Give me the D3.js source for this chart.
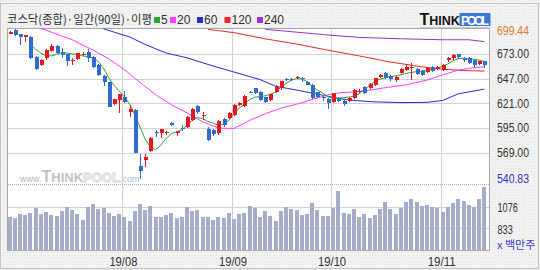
<!DOCTYPE html>
<html>
<head>
<meta charset="utf-8">
<script src="https://cdn.jsdelivr.net/npm/d3@7/dist/d3.min.js"></script>
<style>
  body { margin: 0; background: #fff; }
  svg { display: block; }
</style>
</head>
<body>
<div class="chart"></div>
<script>
// KOSDAQ composite, daily, last 92 sessions (oldest first)
const open = [694.4,698,693.7,691.3,691.3,670.2,661.4,668.4,676.2,681.8,
  674.8,672.7,665.5,667.7,672.4,675.5,670.2,661.4,650.2,643.2,
  620.3,624.5,627.7,611.5,614,555.4,561.3,570.8,590.8,589.4,
  590.2,600.6,590,595.4,596.4,603.5,617.9,607.5,594,592.6,
  589.4,604.2,605.9,608.7,619.3,618.2,633.4,636.8,633.3,627.3,
  624.5,633.3,636.8,646.8,646.5,647.5,647.4,643.9,640.4,632.6,
  628,626,622.1,627,623.5,623.5,627,632.6,638.6,636.8,
  640.4,649.1,653.3,650.2,645.6,653,656.5,658.5,657.2,655.4,
  654.4,659.7,657.2,656.2,666.7,668.4,672.7,669.2,669.2,666.3,
  662.1,665.6];
const high = [697,699.44,694,693.5,692,671,668,678,683,682,
  679.7,673,668.4,674,675,678.3,671,662,651,644,
  626,631,634.4,619.3,615,567.3,567.3,585,592.6,594,
  592,601,592,598.2,608,616,619,612.2,596.4,594,
  603,605.9,611.5,620,622,630,634,637.5,634,628,
  631,640,645,648,648,649.8,649,645,641,633,
  629,627,632,628,624,628,636,635.8,639.5,642,
  648,652,654,651,650,658.5,662,663,658,656,
  659,660,660,662,670,673,673.5,670,670,667,
  666,666];
const low = [694,692,682.5,686,668,656,660,667,675,673,
  668.4,660.7,661.4,667,671,665,658,650,639.6,617,
  619,610.5,621,607,569,540.83,554.3,570,585.6,584.9,
  588,597,587,592,595,602,610,603.5,581.3,587,
  588,596.4,605,608,618,617,632,631,623,621,
  623,632,635,645,645,646.3,643.9,640,626,627,
  623.5,615,621,622,618.2,622,626,632,631,636,
  639,648,647,645,644,651.5,655,646,651,650,
  653,654,656,655,665,667,668,665,662,659,
  661,658.6];
const close = [696.5,693,690.9,693,668.4,657.2,666.7,677.2,681.8,673.7,
  672,666,666.2,673.7,672.9,668.4,659,650.9,643.9,617.5,
  625.6,630.5,622.8,615,569,550,564.5,584.2,589.5,593.6,
  591.2,598.2,591.5,593.5,607,615,611.5,608.5,582.4,588.4,
  602.4,598.2,610.8,619.3,621,629.1,633,631.6,624.5,622.8,
  630.5,638.6,644.6,646.4,646,648.4,646.7,640.4,626.3,628,
  626.3,621,631.6,623.8,620.7,627,635.1,634.4,632.3,641.4,
  647.4,650.9,648,646.3,649,657.5,659.5,659.3,651.9,650.9,
  658.6,655.4,659,661.4,669.2,671.9,669.5,666.3,663.2,661.4,
  665.6,661.4];
// volume, million shares
const volume = [960,948,998,979,1001,1060,998,1012,979,967,
  1027,1068,1038,990,930,1072,1105,1049,1057,1009,
  971,998,960,911,1027,1105,1038,1087,960,960,
  988,1004,948,956,1068,1023,1035,956,963,926,
  956,948,1004,941,993,1004,1083,1057,956,1023,
  967,915,1023,1068,1046,1035,986,998,1113,1035,
  967,975,1057,1255,1009,990,1046,960,998,948,
  979,1049,1132,1046,998,1060,1132,1158,1124,1087,
  1098,1072,1057,1016,1072,1117,1165,1135,1098,1076,
  1165,1300];

// moving averages as [session index, value]
const ma5 = [[4,683],[5,678],[6,674],[7,671],[8,671],[9,672.5],[10,674.5],[11,674],[12,673],[13,672.5],
  [14,671],[15,670],[16,669],[17,665],[18,658],[19,648],[20,640],[21,634],[22,628],[23,620],
  [24,609],[25,596],[26,583],[27,575],[28,572],[29,577],[30,584],[31,589],[32,591],[33,593],
  [34,598],[35,603],[36,606],[37,605],[38,602],[39,600],[40,598],[41,599],[42,603],[43,610],
  [44,616],[45,620],[46,625],[47,627.5],[48,628],[49,629],[50,630.5],[51,633],[52,638],[53,642],
  [54,645.5],[55,647],[56,646.5],[57,644],[58,639],[59,635],[60,632],[61,628],[62,626.5],[63,626.5],
  [64,627],[65,627.5],[66,628.5],[67,631],[68,636],[69,640],[70,644],[71,646.5],[72,648],[73,649],
  [74,650],[75,651],[76,652.5],[77,653.5],[78,654.5],[79,655],[80,656],[81,657],[82,658],[83,660],
  [84,662.5],[85,666],[86,668],[87,668.5],[88,668],[89,667.5],[90,666.5],[91,665]];
const ma20 = [[6,700],[9,694],[12,688],[16,677],[19,668],[22,656.5],[25,643],[28,630],[31,619.5],
  [34,611],[37,601.5],[40,595],[43,594.5],[46,603],[49,610],[52,616],[55,620],[58,625],[61,630],
  [63,632],[66,633],[68,634],[72,637.5],[76,640.5],[80,645.5],[83,651],[86,656],[89,658.5],[91,659.5]];
const ma60 = [[18,699.5],[23,691],[26,683],[30,674],[34,669],[38,662],[43,654],[48,646],[51,639],
  [55,635],[61,628.5],[63,626],[66,624],[70,622.5],[75,621.8],[80,622],[83,624],[86,631],[89,634],[91,636]];
const ma120 = [[38,699],[43,695.5],[49,689],[55,683.5],[61,677],[67,671],[73,664.5],[79,659.5],
  [83,657],[87,655.5],[91,655]];
const ma240 = [[49,699],[55,696],[61,693],[67,690.5],[75,689],[83,688],[88,688],[91,686]];

const maLabels = ["5", "20", "60", "120", "240"];
const monthIndex = [22, 43, 62, 83];
const monthLabels = ["19/08", "19/09", "19/10", "19/11"];
const priceTicks = [699.44, 673, 647, 621, 595, 569, 540.83];
const volumeTicks = [1076, 833];

const maColors = ["#2ca52c", "#ff3cff", "#2a2ad8", "#ee2a2a", "#9b30d0"];
const upColor = "#e8171e", downColor = "#2f6bd2";

const svg = d3.select(".chart").append("svg")
  .attr("width", 540).attr("height", 270)
  .style("font-family", "'Liberation Sans', Arial, sans-serif");

const defs = svg.append("defs");
const pat = defs.append("pattern").attr("id", "dots")
  .attr("width", 3).attr("height", 3).attr("patternUnits", "userSpaceOnUse");
pat.append("rect").attr("width", 3).attr("height", 3).attr("fill", "#f2f2f2");
pat.append("rect").attr("width", 1).attr("height", 1).attr("fill", "#e3e3e3");
defs.append("clipPath").attr("id", "pclip")
  .append("rect").attr("x", 7).attr("y", 28).attr("width", 483).attr("height", 156);

// background + frames
svg.append("rect").attr("width", 540).attr("height", 270).attr("fill", "url(#dots)");
svg.append("rect").attr("x", 0.5).attr("y", 3.5).attr("width", 538).attr("height", 265)
  .attr("fill", "none").attr("stroke", "#c4c4c4");
svg.append("rect").attr("x", 7.5).attr("y", 28.5).attr("width", 482).attr("height", 222)
  .attr("fill", "#fff").attr("stroke", "#a9a9a9");

// scales
const x = d3.scaleBand().domain(d3.range(open.length)).range([7, 487]);
const cx = i => x(i) + x.bandwidth() / 2;
const y = d3.scaleLinear().domain([540.83, 699.44]).range([179.4, 28.9]);
const yv = d3.scaleLinear().domain([590, 1319]).range([249.9, 185.1]);

// grid
const grid = svg.append("g").attr("stroke", "#d3d3d3").attr("shape-rendering", "crispEdges");
grid.selectAll(".hp").data(priceTicks.slice(1, -1)).join("line")
  .attr("x1", 8).attr("x2", 489)
  .attr("y1", d => Math.round(y(d)) + 0.5).attr("y2", d => Math.round(y(d)) + 0.5);
grid.selectAll(".hv").data(volumeTicks).join("line")
  .attr("x1", 8).attr("x2", 489)
  .attr("y1", d => Math.round(yv(d)) + 0.5).attr("y2", d => Math.round(yv(d)) + 0.5);
grid.selectAll(".vm").data(monthIndex).join("line")
  .attr("x1", d => Math.floor(x(d) + 1) + 0.5).attr("x2", d => Math.floor(x(d) + 1) + 0.5)
  .attr("y1", 29).attr("y2", 250);
svg.append("line").attr("x1", 8).attr("x2", 489).attr("y1", 184.5).attr("y2", 184.5)
  .attr("stroke", "#b4b4b4").attr("stroke-dasharray", "1,1");

// watermark
const wm = svg.append("text").attr("x", 20).attr("y", 182).attr("font-weight", "bold");
wm.append("tspan").attr("font-size", 9).attr("font-weight", "normal").attr("fill", "#b5b5b5").text("www.");
wm.append("tspan").attr("font-size", 16).attr("fill", "#c2c2c2").text("T");
wm.append("tspan").attr("font-size", 13).attr("fill", "#c2c2c2").text("HINK");
wm.append("tspan").attr("font-size", 13).attr("fill", "#fafafa").attr("stroke", "#d2d2d2")
  .attr("stroke-width", 0.8).text("POOL");
wm.append("tspan").attr("font-size", 9).attr("font-weight", "normal").attr("fill", "#a9b8d8").text(".com");

// volume bars
svg.append("g").attr("shape-rendering", "crispEdges")
  .selectAll("rect").data(volume).join("rect")
  .attr("x", (d, i) => Math.round(cx(i)) - 2)
  .attr("y", d => Math.round(yv(d)))
  .attr("width", 4)
  .attr("height", d => 250 - Math.round(yv(d)))
  .attr("fill", "#a5adca");

// moving averages
const line = d3.line().x(d => cx(d[0])).y(d => y(d[1]));
const maG = svg.append("g").attr("clip-path", "url(#pclip)");
[ma240, ma120, ma60, ma20, ma5].forEach((s, k) => {
  maG.append("path").datum(s)
    .attr("fill", "none")
    .attr("stroke", maColors[4 - k])
    .attr("stroke-width", 1)
    .attr("d", line);
});

// candles
const idx = d3.range(open.length);
const cg = svg.append("g").attr("shape-rendering", "crispEdges").attr("clip-path", "url(#pclip)");
cg.selectAll(".wick").data(idx).join("rect")
  .attr("x", i => Math.round(cx(i)))
  .attr("y", i => Math.round(y(high[i])))
  .attr("width", 1)
  .attr("height", i => Math.max(1, Math.round(y(low[i])) - Math.round(y(high[i]))))
  .attr("fill", i => close[i] >= open[i] ? upColor : downColor);
cg.selectAll(".body").data(idx).join("rect")
  .attr("x", i => Math.round(cx(i)) - 1)
  .attr("y", i => Math.round(y(Math.max(open[i], close[i]))))
  .attr("width", 4)
  .attr("height", i => Math.max(1, Math.round(y(Math.min(open[i], close[i]))) - Math.round(y(Math.max(open[i], close[i])))))
  .attr("fill", i => close[i] >= open[i] ? upColor : downColor);

// right price axis
svg.append("g").attr("transform", "translate(497,0)")
  .call(d3.axisRight(y).tickValues(priceTicks).tickFormat(d3.format(".2f")).tickSize(0).tickPadding(0))
  .call(g => g.select(".domain").remove())
  .call(g => g.selectAll("text")
    .attr("font-family", "'Liberation Sans', Arial, sans-serif")
    .attr("font-size", 12)
    .attr("textLength", 32).attr("lengthAdjust", "spacingAndGlyphs")
    .attr("y", d => d === priceTicks[0] ? 2 : d === priceTicks[priceTicks.length - 1] ? -1 : 0)
    .attr("fill", d => d === priceTicks[0] ? "#e07b22" : d === priceTicks[priceTicks.length - 1] ? "#2e32d2" : "#333"));

// right volume axis
svg.append("g").attr("transform", "translate(497.5,0)")
  .call(d3.axisRight(yv).tickValues(volumeTicks).tickFormat(d3.format("d")).tickSize(0).tickPadding(0))
  .call(g => g.select(".domain").remove())
  .call(g => g.selectAll("text")
    .attr("font-family", "'Liberation Sans', Arial, sans-serif")
    .attr("font-size", 12)
    .attr("textLength", d => String(d).length * 5.1).attr("lengthAdjust", "spacingAndGlyphs")
    .attr("y", 1)
    .attr("fill", "#333"));
svg.append("text").attr("x", 497).attr("y", 249)
  .attr("font-family", "'Noto Sans CJK KR', sans-serif").attr("font-size", 11)
  .attr("fill", "#3a3ad0").text("x 백만주");

// bottom month axis
svg.append("g").attr("transform", "translate(-1,251)")
  .call(d3.axisBottom(x).tickValues(monthIndex).tickFormat((d, i) => monthLabels[i]).tickSize(0).tickPadding(6))
  .call(g => g.select(".domain").remove())
  .call(g => g.selectAll("text")
    .attr("font-family", "'Liberation Sans', Arial, sans-serif")
    .attr("font-size", 12)
    .attr("textLength", 28).attr("lengthAdjust", "spacingAndGlyphs")
    .attr("fill", "#333"));

// title and legend
svg.append("text").attr("x", 7).attr("y", 24)
  .attr("font-family", "'Noto Sans CJK KR', sans-serif").attr("font-size", 12)
  .attr("textLength", 145).attr("lengthAdjust", "spacingAndGlyphs")
  .attr("fill", "#333").text("코스닥(종합)·일간(90일)·이평");
const legendX = [154, 170, 197, 224.5, 257];
const lg = svg.append("g").selectAll("g").data(maLabels).join("g")
  .attr("transform", (d, i) => `translate(${legendX[i]},0)`);
lg.append("rect").attr("y", 17).attr("width", 6).attr("height", 6)
  .attr("fill", (d, i) => maColors[i]);
lg.append("text").attr("x", 7).attr("y", 23.5).attr("font-size", 12).attr("fill", "#333")
  .text(d => d);

// logo
const logo = svg.append("g").attr("font-weight", "bold");
logo.append("rect").attr("x", 459.5).attr("y", 13).attr("width", 31).attr("height", 13).attr("fill", "#3b77d6");
logo.append("line").attr("x1", 420).attr("x2", 491).attr("y1", 27.5).attr("y2", 27.5).attr("stroke", "#d0d0d0");
const lt = logo.append("text").attr("x", 419.5).attr("y", 25).attr("fill", "#111");
lt.append("tspan").attr("font-size", 16).text("T");
lt.append("tspan").attr("font-size", 12.5).text("HINK");
logo.append("text").attr("x", 475).attr("y", 25).attr("text-anchor", "middle")
  .attr("font-size", 12.5).attr("fill", "#fff").attr("textLength", 28).text("POOL");
</script>
</body>
</html>
